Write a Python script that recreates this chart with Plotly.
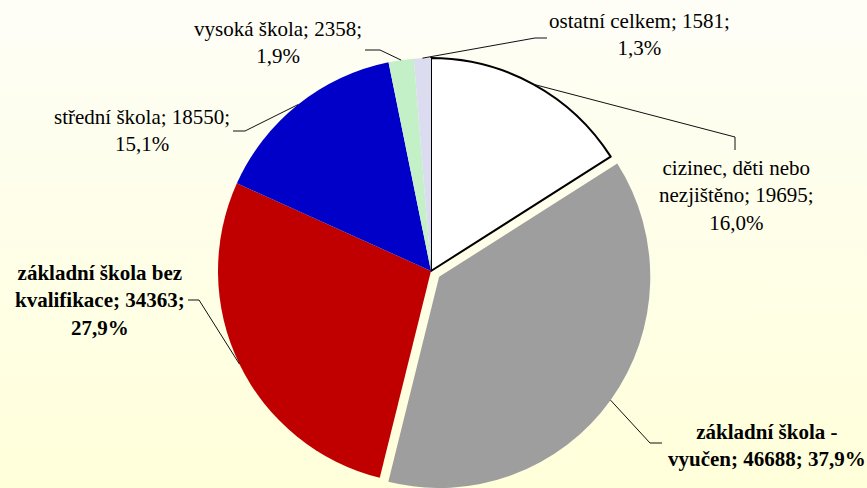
import math
import plotly.graph_objects as go

# ---- data ----
categories = [
    "cizinec, děti nebo nezjištěno",
    "základní škola - vyučen",
    "základní škola bez kvalifikace",
    "střední škola",
    "vysoká škola",
    "ostatní celkem",
]
values = [19695, 46688, 34363, 18550, 2358, 1581]
pct_labels = ["16,0%", "37,9%", "27,9%", "15,1%", "1,9%", "1,3%"]
label_texts = [
    "cizinec, děti nebo<br>nezjištěno; 19695;<br>16,0%",
    "<b>základní škola -<br>vyučen; 46688; 37,9%</b>",
    "<b>základní škola bez<br>kvalifikace; 34363;<br>27,9%</b>",
    "střední škola; 18550;<br>15,1%",
    "vysoká škola; 2358;<br>1,9%",
    "ostatní celkem; 1581;<br>1,3%",
]

# ---- style / layout ----
W, H = 867, 488
MT = 44
colors = ["#ffffff", "#9e9e9e", "#c00000", "#0000c8", "#c4f0c8", "#dcdcf0"]
line_w = [2, 0, 0, 0, 0, 0]
exploded = 1          # index of the exploded slice
pull_px = 10          # explode distance in px
CX, CY, R = 431, 271, 213
FONT = "Times New Roman, Liberation Serif, serif"

# label block centres (px) and leader-line anchor points (px)
label_pos = [(736, 196), (767, 445), (100, 300), (142, 130), (278, 43), (639, 34)]
anchors = [
    [(735, 150), (735, 137)],
    [(662, 443), (650, 443)],
    [(188, 300), (199, 300)],
    [(233, 131), (245, 131)],
    [(365, 50), (380, 50)],
    [(547, 38), (535, 38)],
]

ph = H - MT
total = sum(values)


def px2paper(x, y):
    return x / W, (H - y) / ph


def domain_for(cx, cy, r):
    # x-domain of width 2r centred on cx; y-domain as tall as possible centred on cy
    x0, x1 = (cx - r) / W, (cx + r) / W
    yc = 1 - (cy - MT) / ph
    half = min(yc, 1 - yc)
    return dict(x=[x0, x1], y=[yc - half, yc + half]), min(r, half * ph)


# mid angles of slices
mids = []
cum = 0
for v in values:
    mids.append(2 * math.pi * (cum + v / 2) / total)
    cum += v

ecx = CX + pull_px * math.sin(mids[exploded])
ecy = CY - pull_px * math.cos(mids[exploded])

domA, rA = domain_for(CX, CY, R)
domB, rB = domain_for(ecx, ecy, R)

fig = go.Figure()

# background gradient
fig.add_trace(go.Scatter(
    x=[0, 1, 1, 0, 0], y=[0, 0, 1, 1, 0], fill="toself", mode="none",
    fillgradient=dict(type="vertical",
                      colorscale=[[0, "#ffffda"], [1, "#fefef4"]]),
    hoverinfo="skip", showlegend=False,
))

colA = [("rgba(0,0,0,0)" if i == exploded else c) for i, c in enumerate(colors)]
colB = [(c if i == exploded else "rgba(0,0,0,0)") for i, c in enumerate(colors)]

fig.add_trace(go.Pie(
    labels=categories, values=values, sort=False, direction="clockwise",
    rotation=0, textinfo="none", hoverinfo="label+value+percent",
    marker=dict(colors=colA, line=dict(color="#000000", width=line_w)),
    domain=domA, showlegend=False,
))
fig.add_trace(go.Pie(
    labels=categories, values=values, sort=False, direction="clockwise",
    rotation=0, textinfo="none", hoverinfo="skip",
    marker=dict(colors=colB, line=dict(width=0)),
    domain=domB, showlegend=False,
))

shapes = []
annotations = []
for i, v in enumerate(values):
    if i == exploded:
        ex = ecx + rB * math.sin(mids[i])
        ey = ecy - rB * math.cos(mids[i])
    else:
        ex = CX + rA * math.sin(mids[i])
        ey = CY - rA * math.cos(mids[i])
    (ax0, ay0), (ax1, ay1) = anchors[i]
    p0 = px2paper(ax0, ay0)
    p1 = px2paper(ax1, ay1)
    p2 = px2paper(ex, ey)
    shapes.append(dict(
        type="path", xref="paper", yref="paper", layer="above",
        path=f"M {p0[0]},{p0[1]} L {p1[0]},{p1[1]} L {p2[0]},{p2[1]}",
        line=dict(color="#101010", width=1),
    ))
    lx, ly = px2paper(*label_pos[i])
    annotations.append(dict(
        x=lx, y=ly, xref="paper", yref="paper", text=label_texts[i],
        showarrow=False, xanchor="center", yanchor="middle", align="center",
        font=dict(family=FONT, size=21, color="#000000"),
    ))

fig.update_layout(
    width=W, height=H,
    margin=dict(l=0, r=0, t=MT, b=0, pad=0),
    font=dict(family=FONT),
    paper_bgcolor="#fefef6", plot_bgcolor="rgba(0,0,0,0)",
    xaxis=dict(visible=False, range=[0, 1], domain=[0, 1], fixedrange=True),
    yaxis=dict(visible=False, range=[0, 1], domain=[0, 1], fixedrange=True),
    shapes=shapes, annotations=annotations, showlegend=False,
)

fig.write_html("out.html", config={"displayModeBar": False},
               post_script="document.body.style.margin='0';")
